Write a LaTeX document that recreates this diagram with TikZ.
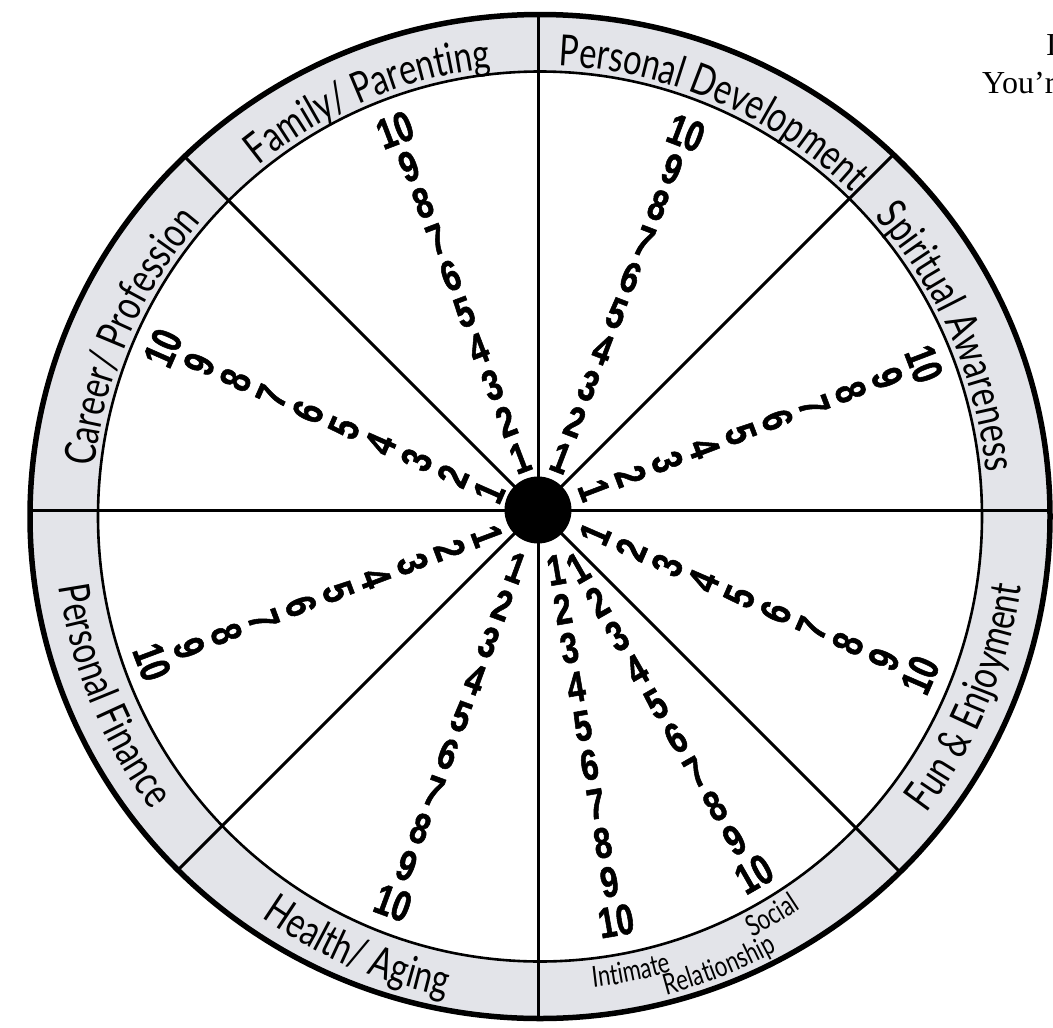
\documentclass[tikz,border=0pt]{standalone}
\usepackage{fontspec}
\usetikzlibrary{calc,decorations.text}
\newfontfamily\numfont[FakeStretch=0.74,FakeBold=1.2]{Liberation Sans}
\newfontfamily\ringfont[FakeStretch=0.76]{Lato}
\newfontfamily\headfont{Liberation Serif}
\definecolor{ringgray}{RGB}{227,228,233}
\newcommand{\numcol}[6]{%
  \foreach \n in {1,...,10}{%
    \pgfmathsetmacro\myt{(\n-1)/9}%
    \node[numstyle,rotate=#6] (#1\n) at ($(#2,-#3)!\myt!(#4,-#5)$) {\n};
  }}
% center angle, x radius, y radius, direction (-1 clockwise, 1 counter-clockwise), half span, size, text
\newcommand{\arclabel}[7]{%
  \pgfmathsetmacro\lsa{#1-#4*#5}%
  \pgfmathsetmacro\lea{#1+#4*#5}%
  \path[decorate,decoration={text along path,text align=center,
     text={|\ringfont\fontsize{#6}{#6}\selectfont|#7}}]
     ([shift={(C)}]\lsa:#2 and #3) arc[start angle=\lsa,end angle=\lea,x radius=#2,y radius=#3];}
\begin{document}
\begin{tikzpicture}[x=1pt,y=1pt,
  numstyle/.style={font=\numfont\bfseries\fontsize{43}{43}\selectfont,inner sep=0pt}]
\useasboundingbox (0,0) rectangle (1053,-1028);
\fill[white] (0,0) rectangle (1053,-1028);
\coordinate (C) at (540,-516.5);
\coordinate (O) at (538,-510);
% ring
\fill[ringgray] (C) ellipse[x radius=510,y radius=502];
\fill[white] (C) ellipse[x radius=442,y radius=445];
% spokes
\begin{scope}
  \clip (C) ellipse[x radius=510,y radius=502];
  \foreach \a in {0,45,...,315} \draw[line width=3] (O) -- ++(\a:800);
\end{scope}
\draw[line width=2.6] (C) ellipse[x radius=442,y radius=445];
\draw[line width=5.5] (C) ellipse[x radius=510,y radius=502];
\fill (O) circle[radius=33.5];
% ring labels
\arclabel{112.5}{448}{451}{-1}{40}{43}{Family/ Parenting}
\arclabel{66.8}{448}{451}{-1}{40}{43}{Personal Development}
\arclabel{23.7}{448}{451}{-1}{40}{43}{Spiritual Awareness}
\arclabel{156.4}{448}{451}{-1}{40}{43}{Career/ Profession}
\arclabel{202.6}{486}{489}{1}{40}{43}{Personal Finance}
\arclabel{247}{486}{489}{1}{40}{43}{Health/ Aging}
\arclabel{337.2}{486}{489}{1}{40}{43}{Fun {\&} Enjoyment}
\arclabel{281.3}{474}{474}{1}{20}{29}{Intimate}
\arclabel{291.7}{495}{495}{1}{20}{29}{Relationship}
\arclabel{300.2}{471}{471}{1}{20}{29}{Social}
% number columns
\numcol{fam}{520}{458}{395}{130}{20.9}
\numcol{dev}{561}{458}{686}{133}{-21}
\numcol{spi}{594}{490}{924}{364}{-69.1}
\numcol{car}{489}{492}{163}{348}{66.2}
\numcol{fin}{487}{536}{152}{662}{-69.4}
\numcol{hea}{516}{568}{393}{903}{-20.2}
\numcol{int}{556}{570}{616}{921}{9.7}
\numcol{soc}{578}{568}{754}{874}{29.9}
\numcol{fun}{595}{534}{920}{675}{66.5}
% cut-off text at top right
\begin{scope}
  \clip (0,0) rectangle (1053,-1028);
  \node[anchor=base west,inner sep=0pt,font=\headfont\fontsize{32}{32}\selectfont] (t1) at (1046,-55) {I};
  \node[anchor=base west,inner sep=0pt,font=\headfont\fontsize{32}{32}\selectfont] (t2) at (982,-93) {You’r};
\end{scope}
\end{tikzpicture}
\end{document}
